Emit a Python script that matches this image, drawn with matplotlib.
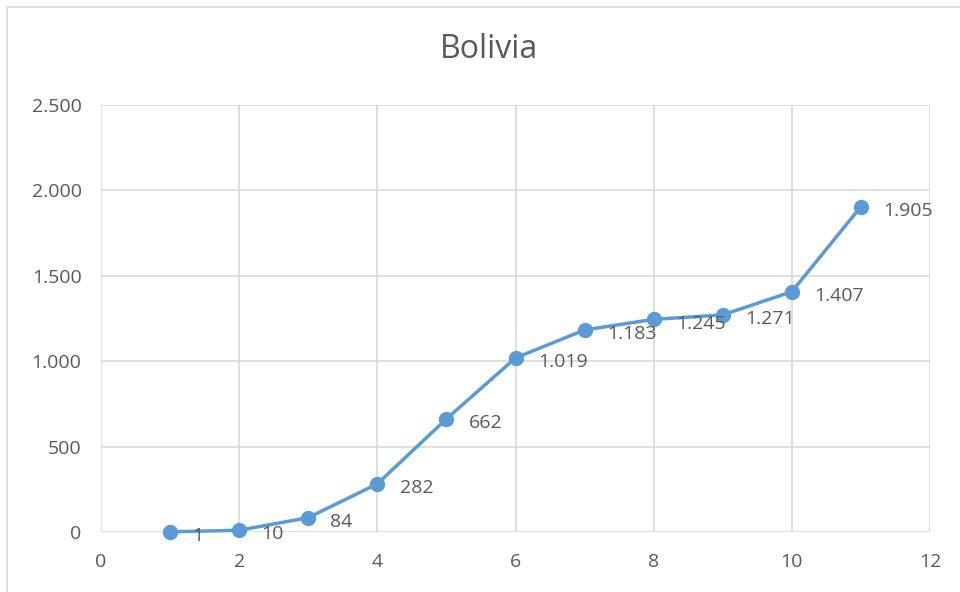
import numpy as np
import matplotlib.pyplot as plt
from matplotlib.patches import Rectangle

# data
dias = [1, 2, 3, 4, 5, 6, 7, 8, 9, 10, 11]
casos = [1, 10, 84, 282, 662, 1019, 1183, 1245, 1271, 1407, 1905]
xticks = [0, 2, 4, 6, 8, 10, 12]
yticks = [0, 500, 1000, 1500, 2000, 2500]

plt.rcParams['font.family'] = ['Open Sans', 'DejaVu Sans']
txt = '#595959'
grid = '#D9D9D9'
blue = '#5B9BD5'


def fmt(v):
    return f'{v:,}'.replace(',', '.')


fig = plt.figure(figsize=(9.6, 5.92), dpi=100)
fig.patches.append(Rectangle((7/960, -0.1), 1.2, 1 - 7/592 + 0.1, transform=fig.transFigure,
                             fill=False, edgecolor=grid, linewidth=1.2))
ax = fig.add_axes([101/960, 1 - 532/592, (930 - 101)/960, (532 - 105)/592])

ax.plot(dias, casos, color=blue, linewidth=2.5, marker='o', markersize=10, zorder=3,
        solid_capstyle='round', clip_on=False)
for x, y in zip(dias, casos):
    ax.annotate(fmt(y), (x, y), xytext=(16, -3), textcoords='offset points',
                ha='left', va='center', fontsize=14, color=txt)

ax.set_xlim(0, 12)
ax.set_ylim(0, 2500)
ax.set_xticks(xticks)
ax.set_yticks(yticks)
ax.set_yticklabels([fmt(v) for v in yticks])
ax.grid(True, color=grid, linewidth=1.2)
ax.set_axisbelow(True)
for s in ax.spines.values():
    s.set_visible(False)
ax.tick_params(length=0, labelsize=14, colors=txt)
ax.tick_params(axis='y', pad=14)
ax.tick_params(axis='x', pad=15)

fig.text(489/960, 1 - 50/592, 'Bolivia', ha='center', va='center', fontsize=23, color=txt)

fig.savefig('out.png', dpi=100)
